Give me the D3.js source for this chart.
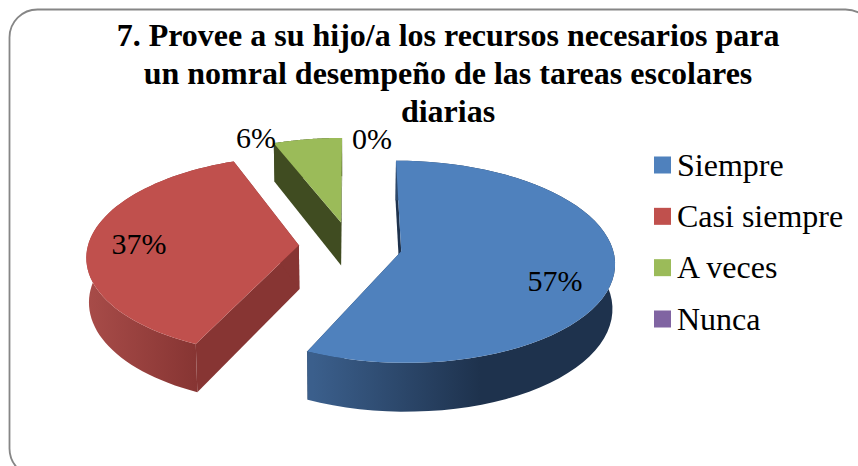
<!DOCTYPE html>
<html>
<head>
<meta charset="utf-8">
<script src="https://cdnjs.cloudflare.com/ajax/libs/d3/7.8.5/d3.min.js"></script>
<style>
  html, body { margin: 0; padding: 0; background: #fff; overflow: hidden; }
  text { font-family: "Liberation Serif", serif; fill: #000; }
</style>
</head>
<body>
<div class="visualisation"></div>
<script>
const categories = ["Siempre", "Casi siempre", "A veces", "Nunca"];
const values = [57, 37, 6, 0];
const percentLabels = ["57%", "37%", "6%", "0%"];
const titleLines = [
  "7. Provee a su hijo/a los recursos necesarios para",
  "un nomral desempeño de las tareas escolares",
  "diarias"
];
const colors = ["#4f81bd", "#c0504d", "#9bbb59", "#8064a2"];
// wall shades, left then right
const wallColors = [["#3b5f8c", "#1e324d"], ["#a84c49", "#873533"], ["#404c21", "#404c21"], ["#4c3b61", "#4c3b61"]];

const wdth = 858;
const hght = 466;

// pie plane -> screen, things lower in the picture are closer so a bit bigger
const cx = 350.5, cy = 246;
const radiusX = 211, radiusY = 100;
const tilt = 0.104;
const depth = 44;
const explode = 0.245;
const labelXY = [[555, 281], [139, 244], [256, 138], [372, 139]];

function project(u, v, low) {
  const s = 1 + tilt * v;
  const shrink = low ? 0.99 : 1;
  return [cx + radiusX * u * s * shrink, cy + radiusY * v * s + (low ? depth * s : 0)];
}

const svg = d3.select(".visualisation")
  .append("svg")
  .attr("width", wdth)
  .attr("height", hght);

const defs = svg.append("defs");

svg.append("rect")
  .attr("x", 9.5)
  .attr("y", 9.5)
  .attr("width", 864)
  .attr("height", 467)
  .attr("rx", 28)
  .attr("fill", "#fff")
  .attr("stroke", "#868686")
  .attr("stroke-width", 1.8);

svg.append("g")
  .selectAll("text")
  .data(titleLines)
  .enter()
  .append("text")
  .attr("x", 448)
  .attr("y", (d, i) => 46 + i * 38)
  .attr("text-anchor", "middle")
  .attr("font-size", 32)
  .attr("font-weight", "bold")
  .text(d => d);

const slices = d3.pie().sort(null)(values);
const line = d3.line();

function slicePoints(d, low) {
  const mid = (d.startAngle + d.endAngle) / 2;
  const ou = Math.sin(mid) * explode;
  const ov = -Math.cos(mid) * explode;
  const steps = d3.range(0, 61).map(i => d.startAngle + (d.endAngle - d.startAngle) * i / 60);
  return {
    apex: project(ou, ov, low),
    arc: steps.map(a => project(ou + Math.sin(a), ov - Math.cos(a), low))
  };
}

const pieG = svg.append("g");

slices.forEach((d, i) => {
  if (d.value === 0) return;
  const top = slicePoints(d, false);
  const low = slicePoints(d, true);
  const xs = d3.extent(top.arc, p => p[0]);

  const grad = defs.append("linearGradient")
    .attr("id", "wall" + i)
    .attr("gradientUnits", "userSpaceOnUse")
    .attr("x1", i === 0 ? 313 : xs[0])
    .attr("x2", i === 0 ? 480 : top.arc[0][0])
    .attr("y1", 0)
    .attr("y2", 0);
  grad.append("stop").attr("offset", 0).attr("stop-color", wallColors[i][0]);
  grad.append("stop").attr("offset", 1).attr("stop-color", wallColors[i][1]);

  const n = top.arc.length - 1;
  // the two cut faces
  pieG.append("path")
    .attr("d", line([top.apex, top.arc[0], low.arc[0], low.apex]) + "Z")
    .attr("fill", wallColors[i][1]);
  pieG.append("path")
    .attr("d", line([top.apex, top.arc[n], low.arc[n], low.apex]) + "Z")
    .attr("fill", wallColors[i][1]);
  // outer rim
  pieG.append("path")
    .attr("d", line(top.arc.concat(low.arc.slice().reverse())) + "Z")
    .attr("fill", "url(#wall" + i + ")");
  // top face
  pieG.append("path")
    .attr("d", line([top.apex].concat(top.arc)) + "Z")
    .attr("fill", colors[i]);
});

svg.append("g")
  .selectAll("text")
  .data(percentLabels)
  .enter()
  .append("text")
  .attr("x", (d, i) => labelXY[i][0])
  .attr("y", (d, i) => labelXY[i][1] + 10)
  .attr("text-anchor", "middle")
  .attr("font-size", 30)
  .text(d => d);

const legendY = d3.scalePoint()
  .domain(categories)
  .range([165, 319]);

const legend = svg.append("g")
  .selectAll("g")
  .data(categories)
  .enter()
  .append("g")
  .attr("transform", d => "translate(654," + legendY(d) + ")");

legend.append("rect")
  .attr("y", -8.5)
  .attr("width", 17)
  .attr("height", 17)
  .attr("fill", (d, i) => colors[i]);

legend.append("text")
  .attr("x", 23)
  .attr("y", 10.5)
  .attr("font-size", 32)
  .text(d => d);
</script>
</body>
</html>
